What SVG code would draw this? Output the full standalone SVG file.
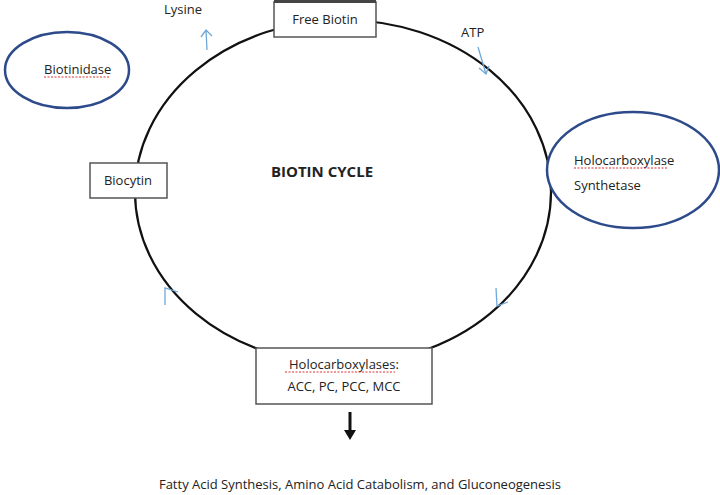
<svg xmlns="http://www.w3.org/2000/svg" width="720" height="495" viewBox="0 0 720 495">
<style>
text{font-family:"Open Sans","Liberation Sans",sans-serif;font-size:13px;fill:#222}
.box{fill:#fff;stroke:#555;stroke-width:1.5}
.ell{fill:#fff;stroke:#2d4a8a;stroke-width:2.5}
.arr{fill:none;stroke:#6fa8d8;stroke-width:1.3}
.u{stroke:#e03030;stroke-width:1;stroke-dasharray:2 1.5}
</style>
<rect width="720" height="495" fill="#fff"/>
<g id="connectors">
<ellipse cx="343" cy="192" rx="208" ry="172" fill="none" stroke="#111" stroke-width="2.2"/>
<path class="arr" d="M207 50 L206 30 M201 37 L206 30 L212 36"/>
<path class="arr" d="M478 47 L486 74 M479 68 L486 74 L489 66"/>
<path class="arr" d="M496 288 L497 306 L508 302"/>
<path class="arr" d="M165 305 L165 288 L178 292"/>
<path d="M350 412 L350 434" stroke="#111" stroke-width="3"/>
<path d="M344 430 L350 440 L356 430 Z" fill="#111"/>
</g>
<g id="biotinidase">
<ellipse class="ell" cx="67" cy="70" rx="62" ry="38"/>
<text x="44" y="74">Biotinidase</text>
<line class="u" x1="44" y1="77" x2="110" y2="77"/>
</g>
<g id="hcs">
<ellipse class="ell" cx="633" cy="170" rx="86" ry="58"/>
<text x="574" y="165">Holocarboxylase</text>
<line class="u" x1="574" y1="168" x2="668" y2="168"/>
<text x="574" y="190">Synthetase</text>
</g>
<g id="free-biotin">
<rect class="box" x="274" y="2" width="102" height="35"/>
<rect x="274" y="0" width="102" height="3" fill="#444"/>
<text x="325" y="24" text-anchor="middle">Free Biotin</text>
</g>
<g id="biocytin">
<rect class="box" x="90" y="163" width="77" height="35"/>
<text x="128" y="185" text-anchor="middle">Biocytin</text>
</g>
<g id="holo">
<rect class="box" x="256" y="348" width="176" height="56"/>
<text x="344" y="369" text-anchor="middle">Holocarboxylases:</text>
<line class="u" x1="285" y1="372" x2="395" y2="372"/>
<text x="344" y="391" text-anchor="middle">ACC, PC, PCC, MCC</text>
</g>
<g id="labels">
<text x="164" y="14">Lysine</text>
<text x="461" y="37">ATP</text>
<text x="322" y="177" text-anchor="middle" style="font-weight:bold;font-size:15px">BIOTIN CYCLE</text>
<text x="360" y="489" text-anchor="middle">Fatty Acid Synthesis, Amino Acid Catabolism, and Gluconeogenesis</text>
</g>
</svg>
